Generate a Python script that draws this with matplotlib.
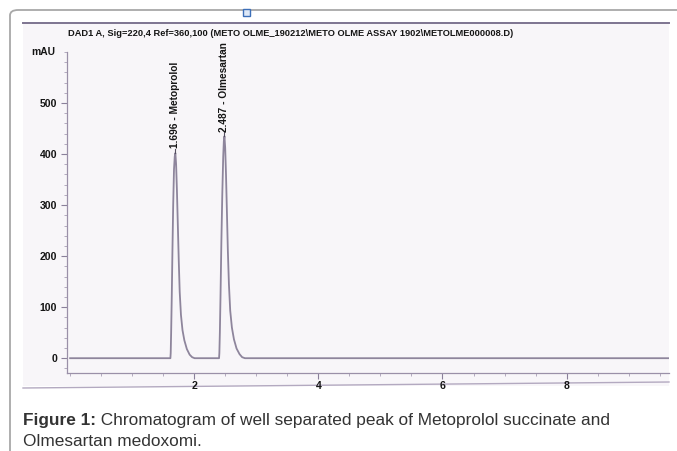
import matplotlib
matplotlib.use("Agg")
import matplotlib.pyplot as plt
from matplotlib.patches import FancyBboxPatch, Rectangle
from matplotlib.lines import Line2D
from matplotlib.ticker import MultipleLocator

# ---- data ----
time_min = [0.0,
            1.616, 1.621, 1.628, 1.638, 1.649, 1.661, 1.674, 1.686, 1.696, 1.708, 1.721, 1.736, 1.751,
            1.766, 1.786, 1.811, 1.841, 1.881, 1.926, 1.966, 2.006,
            2.400, 2.405, 2.413, 2.424, 2.437, 2.452, 2.467, 2.477, 2.487, 2.499, 2.512, 2.527, 2.542,
            2.559, 2.580, 2.607, 2.640, 2.682, 2.730, 2.772, 2.817,
            9.65]
signal_mau = [0,
              0, 10, 50, 120, 211, 300, 370, 395, 402, 380, 330, 260, 190,
              130, 85, 55, 35, 18, 7, 2, 0,
              0, 10, 50, 125, 225, 320, 395, 425, 435, 412, 360, 285, 210,
              145, 93, 60, 37, 19, 8, 2, 0,
              0]
peak_times = [1.696, 2.487]
peak_heights = [402, 435]
peak_labels = ["1.696 - Metoprolol", "2.487 - Olmesartan"]
x_ticks = [2, 4, 6, 8]
y_ticks = [0, 100, 200, 300, 400, 500]
title = r"DAD1 A, Sig=220,4 Ref=360,100 (METO OLME_190212\METO OLME ASSAY 1902\METOLME000008.D)"
caption_bold = "Figure 1:"
caption_line1 = " Chromatogram of well separated peak of Metoprolol succinate and"
caption_line2 = "Olmesartan medoxomi."

W, H = 677, 451
fig = plt.figure(figsize=(W / 100, H / 100), dpi=100)
fig.patch.set_facecolor("white")

def fx(px):
    return px / W

def fy(py):
    return 1 - py / H

# card border (rounded, open to the right/bottom)
card = FancyBboxPatch((fx(10), fy(470)), fx(700), fy(10) - fy(470),
                      boxstyle="round,pad=0,rounding_size=0.012",
                      transform=fig.transFigure, facecolor="none",
                      edgecolor="#a8a8a8", linewidth=1.3, clip_on=False, zorder=-20)
fig.patches.append(card)

# scanned picture background
scan = Rectangle((fx(23), fy(386)), fx(669) - fx(23), fy(23) - fy(386),
                 transform=fig.transFigure, facecolor="#f8f6f9",
                 edgecolor="none", zorder=-10)
fig.patches.append(scan)
fig.lines.append(Line2D([fx(23), fx(669)], [fy(23), fy(23)], transform=fig.transFigure,
                        color="#7d7490", linewidth=1.4, zorder=-5))
fig.lines.append(Line2D([fx(23), fx(669)], [fy(388), fy(382)], transform=fig.transFigure,
                        color="#b3a9c0", linewidth=1.0, zorder=-5))
# small blue handle at top
fig.patches.append(Rectangle((fx(243), fy(16)), fx(7), fy(9) - fy(16),
                             transform=fig.transFigure, facecolor="#dfe9f7",
                             edgecolor="#3d6fb8", linewidth=1.0, zorder=-4))

# axes
ax = fig.add_axes([fx(67), fy(373), fx(669) - fx(67), fy(52) - fy(373)])
ax.set_zorder(5)
ax.patch.set_alpha(0)
ax.set_xlim(-0.05, 9.65)
ax.set_ylim(-29, 600)

line_col = "#8e859c"
ax.plot(time_min, signal_mau, color=line_col, linewidth=1.3)

for t, h, lab in zip(peak_times, peak_heights, peak_labels):
    ax.plot([t, t], [h, h + 8], color="#555060", linewidth=0.8)
    ax.text(t, h + 9, lab, rotation=90, ha="center", va="bottom",
            fontsize=7.3, fontweight="bold", color="#151515",
            family="Liberation Sans")

for s in ["top", "right"]:
    ax.spines[s].set_visible(False)
for s in ["left", "bottom"]:
    ax.spines[s].set_color("#9a90a8")
    ax.spines[s].set_linewidth(0.9)

ax.set_xticks(x_ticks)
ax.set_xticklabels([str(v) for v in x_ticks])
ax.xaxis.set_minor_locator(MultipleLocator(0.5))
ax.set_yticks(y_ticks)
ax.set_yticklabels([str(v) for v in y_ticks])
ax.yaxis.set_minor_locator(MultipleLocator(20))
ax.tick_params(axis="both", which="major", length=4, width=0.8, color="#8a809a",
               labelsize=7.6, pad=3, labelcolor="#151515")
ax.tick_params(axis="x", which="major", pad=2)
ax.tick_params(axis="both", which="minor", length=2, width=0.6, color="#a89eb6")
for lbl in ax.get_xticklabels() + ax.get_yticklabels():
    lbl.set_fontweight("bold")
    lbl.set_family("Liberation Sans")

ax.text(-0.02, 1.0, "mAU", transform=ax.transAxes, ha="right", va="center",
        fontsize=7.4, fontweight="bold", color="#151515", family="Liberation Sans")

fig.text(fx(68), fy(33), title, ha="left", va="center", fontsize=6.65,
         fontweight="bold", color="#151515", family="Liberation Sans")

# caption
cap_size = 12.4
t1 = fig.text(fx(23), fy(420), caption_bold, ha="left", va="center", fontsize=cap_size,
              fontweight="bold", color="#333333", family="Liberation Sans")
fig.canvas.draw()
bb = t1.get_window_extent()
fig.text(bb.x1 / W, fy(420), caption_line1, ha="left", va="center", fontsize=cap_size,
         color="#333333", family="Liberation Sans")
fig.text(fx(23), fy(441), caption_line2, ha="left", va="center", fontsize=cap_size,
         color="#333333", family="Liberation Sans")

fig.savefig("out.png", dpi=100)
